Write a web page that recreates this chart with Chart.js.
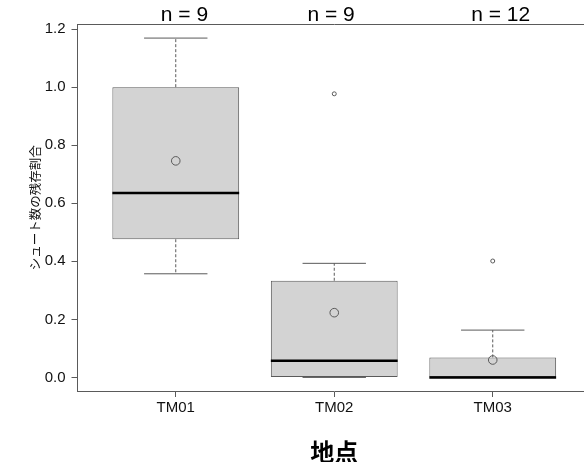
<!DOCTYPE html>
<html>
<head>
<meta charset="utf-8">
<script src="https://cdn.jsdelivr.net/npm/chart.js@4.4.1/dist/chart.umd.min.js"></script>
<style>
  html, body { margin: 0; padding: 0; background: #fff; }
  #wrap { width: 584px; height: 462px; overflow: hidden; position: relative; }
  canvas { display: block; }
</style>
</head>
<body>
<div id="wrap"><canvas id="c" width="600" height="462"></canvas></div>
<script>
// ---- data ----
const categories  = ['TM01', 'TM02', 'TM03'];
const nLabels     = ['n = 9', 'n = 9', 'n = 12'];
const whiskerLow  = [0.357, 0.0, 0.0];
const q1          = [0.476, 0.0, 0.0];
const median      = [0.635, 0.057, 0.0];
const q3          = [1.000, 0.333, 0.069];
const whiskerHigh = [1.169, 0.393, 0.163];
const means       = [0.746, 0.223, 0.060];
const outliers    = [[], [0.977], [0.401]];
const yTicks      = [0.0, 0.2, 0.4, 0.6, 0.8, 1.0, 1.2];

// ---- layout constants (R boxplot style) ----
const BOX_HALF = 0.4, CAP_HALF = 0.2;
const nLabelShift = [0.055, -0.02, 0.05];
const xs = categories.map((_, i) => i + 1);
const yMin = -0.0468, yMax = 1.2158;
const xMin = 0.38, xMax = 3.62;
const GRAY = '#5a5a5a';

function segs(list) {            // list of [x1,y1,x2,y2] -> points with gaps
  const out = [];
  list.forEach(s => { out.push({x: s[0], y: s[1]}, {x: s[2], y: s[3]}, {x: s[2], y: null}); });
  return out;
}

const boxData = xs.map((x, i) => ({x: x, y: [q1[i], q3[i]]}));
const medData = segs(xs.map((x, i) => [x - BOX_HALF, median[i], x + BOX_HALF, median[i]]));
const whiskData = segs([].concat(
  xs.map((x, i) => [x, q3[i], x, whiskerHigh[i]]),
  xs.map((x, i) => [x, q1[i], x, whiskerLow[i]])
).filter(s => s[1] !== s[3]));
const capData = segs([].concat(
  xs.map((x, i) => [x - CAP_HALF, whiskerHigh[i], x + CAP_HALF, whiskerHigh[i]]),
  xs.map((x, i) => [x - CAP_HALF, whiskerLow[i], x + CAP_HALF, whiskerLow[i]])
));
const meanData = xs.map((x, i) => ({x: x, y: means[i]}));
const outData = [];
outliers.forEach((arr, i) => arr.forEach(v => outData.push({x: xs[i], y: v})));

new Chart(document.getElementById('c'), {
  type: 'bar',
  data: {
    datasets: [
      { type: 'bar', data: boxData, backgroundColor: '#d3d3d3', borderColor: GRAY,
        borderWidth: 1, borderSkipped: false, barPercentage: 0.8, categoryPercentage: 1.0, order: 6 },
      { type: 'line', data: whiskData, borderColor: GRAY, borderWidth: 1, borderDash: [3, 2],
        pointRadius: 0, spanGaps: false, fill: false, order: 5 },
      { type: 'line', data: capData, borderColor: GRAY, borderWidth: 1,
        pointRadius: 0, spanGaps: false, fill: false, order: 4 },
      { type: 'line', data: medData, borderColor: '#000', borderWidth: 2.5,
        pointRadius: 0, spanGaps: false, fill: false, order: 3, borderCapStyle: 'butt' },
      { type: 'line', data: meanData, showLine: false, pointRadius: 4.3, pointBorderWidth: 1,
        pointBorderColor: GRAY, pointBackgroundColor: 'rgba(0,0,0,0)', order: 2 },
      { type: 'line', data: outData, showLine: false, pointRadius: 2, pointBorderWidth: 1,
        pointBorderColor: GRAY, pointBackgroundColor: 'rgba(0,0,0,0)', order: 1 }
    ]
  },
  options: {
    responsive: false,
    animation: false,
    events: [],
    layout: { padding: { left: 0, right: 9, top: 0, bottom: 0 } },
    plugins: { legend: { display: false }, tooltip: { enabled: false } },
    scales: {
      x: {
        type: 'linear', position: 'bottom', min: xMin, max: xMax, offset: false,
        afterBuildTicks: s => { s.ticks = xs.map(v => ({value: v})); },
        afterFit: s => { s.height = 71; },
        ticks: { autoSkip: false, maxRotation: 0, padding: 2, color: '#111',
          font: { family: '"Liberation Sans", Arial, sans-serif', size: 15 },
          callback: (v, i) => categories[i] },
        grid: { offset: false, drawOnChartArea: false, drawTicks: true, tickLength: 6, color: GRAY, tickWidth: 1 },
        border: { display: true, color: GRAY, width: 1 },
        title: { display: true, text: '地点', color: '#000',
          font: { family: '"Noto Sans CJK JP", sans-serif', size: 24, weight: 'bold', lineHeight: 1 },
          padding: { top: 0, bottom: -2 } }
      },
      x2: {
        type: 'linear', position: 'top', min: xMin, max: xMax, offset: false,
        afterBuildTicks: s => { s.ticks = xs.map((v, i) => ({value: v + nLabelShift[i]})); },
        afterFit: s => { s.height = 24.5; },
        ticks: { autoSkip: false, maxRotation: 0, padding: -3, color: '#000',
          font: { family: '"Liberation Sans", Arial, sans-serif', size: 21 },
          callback: (v, i) => nLabels[i] },
        grid: { offset: false, drawOnChartArea: false, drawTicks: false, tickLength: 0 },
        border: { display: true, color: GRAY, width: 1 }
      },
      y: {
        type: 'linear', position: 'left', min: yMin, max: yMax,
        afterBuildTicks: s => { s.ticks = yTicks.map(v => ({value: v})); },
        afterFit: s => { s.width = 77.5; },
        ticks: { autoSkip: false, padding: 6, color: '#111',
          font: { family: '"Liberation Sans", Arial, sans-serif', size: 15 },
          callback: v => Number(v).toFixed(1) },
        grid: { drawOnChartArea: false, drawTicks: true, tickLength: 6, color: GRAY, tickWidth: 1 },
        border: { display: true, color: GRAY, width: 1 },
        title: { display: true, text: 'シュート数の残存割合', color: '#111',
          font: { family: '"Noto Sans CJK JP", sans-serif', size: 12.5 },
          padding: { top: 28, bottom: 0 } }
      }
    }
  }
});
</script>
</body>
</html>
